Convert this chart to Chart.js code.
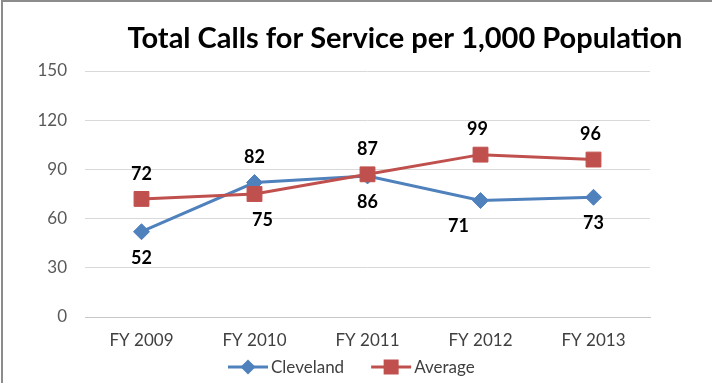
<!DOCTYPE html>
<html>
<head>
<meta charset="utf-8">
<script src="https://cdn.jsdelivr.net/npm/chart.js@4.4.0/dist/chart.umd.min.js"></script>
<style>
  html, body { margin: 0; padding: 0; background: #fff; }
  #wrap { width: 712px; height: 383px; }
</style>
</head>
<body>
<div id="wrap"><canvas id="chart" width="712" height="383"></canvas></div>
<script>
// Data
const years = ['FY 2009', 'FY 2010', 'FY 2011', 'FY 2012', 'FY 2013'];
const cleveland = [52, 82, 86, 71, 73];
const average = [72, 75, 87, 99, 96];
const yTicks = [0, 30, 60, 90, 120, 150];

// where each value label goes relative to its point
const clevelandLabelSide = ['below', 'above', 'below', 'below', 'below'];
const averageLabelSide = ['above', 'below', 'above', 'above', 'above'];
const clevelandLabelShift = [0, 0, 0, -22, 0];
const averageLabelShift = [0, 8, 0, -3, -3];

const BLUE = '#4F81BD';
const RED = '#C0504D';
const FONT = 'Lato';

function drawMarker(ctx, style, x, y, color) {
    ctx.fillStyle = color;
    ctx.beginPath();
    if (style === 'rectRot') {
        ctx.moveTo(x - 7.5, y);
        ctx.lineTo(x, y - 7.5);
        ctx.lineTo(x + 7.5, y);
        ctx.lineTo(x, y + 7.5);
    } else {
        ctx.rect(x - 7.5, y - 7.5, 15, 15);
    }
    ctx.closePath();
    ctx.fill();
}

// title, value labels, legend and frame
const extras = {
    id: 'extras',
    afterDatasetsDraw(chart) {
        const ctx = chart.ctx;
        ctx.save();
        ctx.font = 'bold 18px ' + FONT;
        ctx.fillStyle = '#000';
        ctx.textAlign = 'center';
        ctx.textBaseline = 'middle';
        chart.data.datasets.forEach((ds, i) => {
            const meta = chart.getDatasetMeta(i);
            meta.data.forEach((pt, j) => {
                const dy = ds.labelSide[j] === 'above' ? -25 : 26;
                ctx.fillText(String(ds.data[j]), pt.x + ds.labelShift[j], pt.y + dy);
            });
        });
        ctx.restore();
    },
    afterDraw(chart) {
        const ctx = chart.ctx;
        ctx.save();

        // title, sized to span the same width as the original
        const title = 'Total Calls for Service per 1,000 Population';
        ctx.font = 'bold 24px ' + FONT;
        const w = ctx.measureText(title).width;
        const size = 24 * 555 / w;
        ctx.font = 'bold ' + size.toFixed(1) + 'px ' + FONT;
        ctx.fillStyle = '#000';
        ctx.textAlign = 'center';
        ctx.textBaseline = 'middle';
        ctx.fillText(title, 405, 39);

        // legend
        ctx.font = '17px ' + FONT;
        ctx.textAlign = 'left';
        let x = 228;
        const ly = 367;
        chart.data.datasets
            .slice()
            .sort((a, b) => a.legendIndex - b.legendIndex)
            .forEach(ds => {
                ctx.strokeStyle = ds.borderColor;
                ctx.lineWidth = 3;
                ctx.beginPath();
                ctx.moveTo(x, ly);
                ctx.lineTo(x + 40, ly);
                ctx.stroke();
                drawMarker(ctx, ds.pointStyle, x + 20, ly, ds.borderColor);
                ctx.fillStyle = '#404040';
                ctx.fillText(ds.label, x + 43, ly + 1);
                x += 43 + ctx.measureText(ds.label).width + 27;
            });

        // frame on left and top
        ctx.strokeStyle = '#8C8C8C';
        ctx.lineWidth = 2;
        ctx.beginPath();
        ctx.moveTo(2, 383);
        ctx.lineTo(2, 1);
        ctx.lineTo(712, 1);
        ctx.stroke();
        ctx.restore();
    }
};

new Chart(document.getElementById('chart'), {
    type: 'line',
    data: {
        labels: years,
        datasets: [{
            label: 'Cleveland',
            data: cleveland,
            labelSide: clevelandLabelSide,
            labelShift: clevelandLabelShift,
            legendIndex: 0,
            order: 1,
            borderColor: BLUE,
            backgroundColor: BLUE,
            borderWidth: 3,
            pointStyle: 'rectRot',
            pointRadius: 8,
            pointBorderWidth: 1,
            tension: 0
        }, {
            label: 'Average',
            data: average,
            labelSide: averageLabelSide,
            labelShift: averageLabelShift,
            legendIndex: 1,
            order: 0,
            borderColor: RED,
            backgroundColor: RED,
            borderWidth: 3,
            pointStyle: 'rect',
            pointRadius: 10.5,
            pointBorderWidth: 1,
            tension: 0
        }]
    },
    options: {
        responsive: false,
        animation: false,
        layout: {
            padding: { top: 71, right: 62, bottom: 0, left: 0 }
        },
        plugins: {
            legend: { display: false },
            title: { display: false },
            tooltip: { enabled: false }
        },
        scales: {
            x: {
                offset: true,
                grid: { display: false },
                border: { color: '#C8C8C8', width: 1 },
                ticks: {
                    color: '#404040',
                    font: { family: FONT, size: 17 },
                    padding: 5,
                    maxRotation: 0
                },
                afterFit(scale) { scale.height = 66; }
            },
            y: {
                min: yTicks[0],
                max: yTicks[yTicks.length - 1],
                afterBuildTicks(scale) {
                    scale.ticks = yTicks.map(v => ({ value: v }));
                },
                grid: { color: '#D9D9D9', drawTicks: false },
                border: { display: false },
                ticks: {
                    color: '#595959',
                    font: { family: FONT, size: 17 },
                    padding: 18
                },
                afterFit(scale) { scale.width = 85; }
            }
        }
    },
    plugins: [extras]
});
</script>
</body>
</html>
